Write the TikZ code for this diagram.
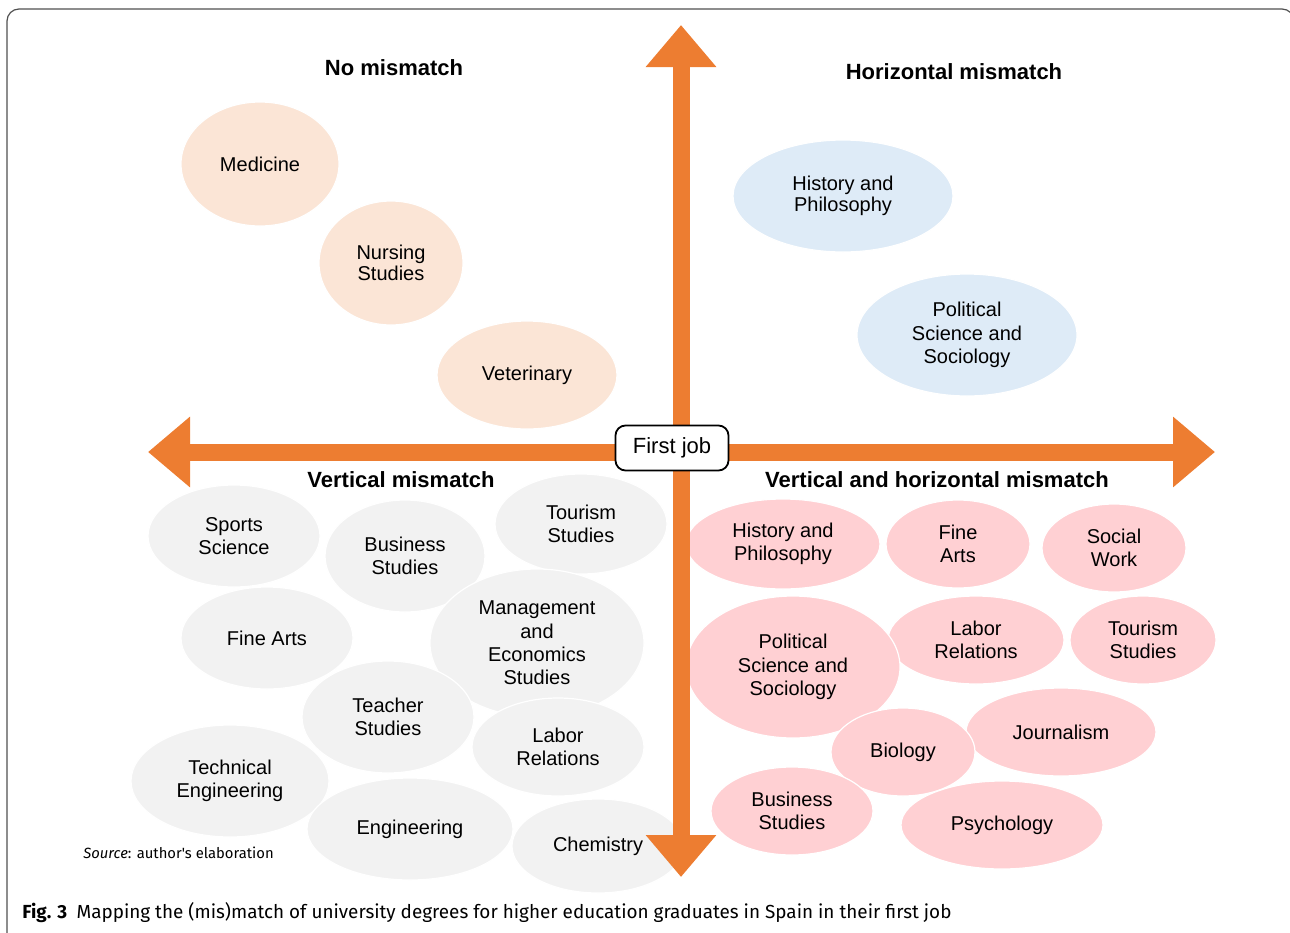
\documentclass[tikz,border=0pt]{standalone}
\usepackage{fontspec}
\setmainfont{Liberation Sans}
\newfontfamily\capfont{Fira Sans}
\usetikzlibrary{shapes.geometric, arrows.meta}

\definecolor{axisorange}{HTML}{ED7D31}
\definecolor{peach}{HTML}{FBE5D6}
\definecolor{paleblue}{HTML}{DEEBF7}
\definecolor{palegray}{HTML}{F2F2F2}
\definecolor{palepink}{HTML}{FFD0D3}
\definecolor{framegray}{HTML}{505050}

\begin{document}
\begin{tikzpicture}[x = 0.5pt, y = -0.5pt, % one unit = one pixel of the figure
                degree/.style = {ellipse, draw = white, line width = 0.6pt,
                    inner sep = 0pt, align = center},
                dims/.style 2 args = {minimum width = #1pt, minimum height = #2pt},
                upper/.style = {degree, font = \fontsize{10}{10.5}\selectfont},
                lower/.style = {degree, font = \fontsize{10}{11.7}\selectfont},
                nomis/.style = {upper, fill = peach},
                hormis/.style = {upper, fill = paleblue},
                vermis/.style = {lower, fill = palegray},
                bothmis/.style = {lower, fill = palepink},
                quadtitle/.style = {font = \fontsize{11}{13}\selectfont\bfseries},
                axis/.style = {draw = axisorange, line width = 8.5pt,
                    {Triangle[length = 21pt, width = 34pt]}-{Triangle[length = 21pt, width = 34pt]}}
            ]

    \useasboundingbox (0,0) rectangle (1290,932);
    \draw[framegray, line width = 0.6pt, rounded corners = 6pt] (7,9) rectangle (1294,950);

    % no mismatch
    \node[nomis, dims = {79}{62}] (med) at (260,164) {Medicine};
    \node[nomis, dims = {72}{62}] (nurs) at (391,263) {Nursing\\Studies};
    \node[nomis, dims = {90}{54}] (vet) at (527,375) {Veterinary};

    % horizontal mismatch
    \node[hormis, dims = {110}{56}] (hhist) at (843,196) {History and\\Philosophy};
    \node[hormis, font = \fontsize{10}{11.7}\selectfont, dims = {110}{61}] (hpol) at (967,335) {Political\\Science and\\Sociology};

    % vertical mismatch
    \node[vermis, dims = {86}{51}] (vsport) at (234,536) {Sports\\Science};
    \node[vermis, dims = {80}{56}] (vbus) at (405,556) {Business\\Studies};
    \node[vermis, dims = {86}{50}] (vtour) at (581,524) {Tourism\\Studies};
    \node[vermis, dims = {86}{51}] (vfine) at (267,638) {Fine Arts};
    \node[vermis, dims = {107}{74}] (vman) at (537,643) {Management\\and\\Economics\\Studies};
    \node[vermis, dims = {86}{56}] (vteach) at (388,717) {Teacher\\Studies};
    \node[vermis, dims = {86}{49}] (vlab) at (558,747) {Labor\\Relations};
    \node[vermis, dims = {99}{56}] (vtech) at (230,781) {Technical\\Engineering};
    \node[vermis, dims = {103}{51}] (veng) at (410,829) {Engineering};
    \node[vermis, dims = {86}{47}] (vchem) at (598,846) {Chemistry};

    % vertical and horizontal mismatch
    \node[bothmis, dims = {97}{45}] (bhist) at (783,544) {History and\\Philosophy};
    \node[bothmis, dims = {72}{44}] (bfine) at (958,544) {Fine\\Arts};
    \node[bothmis, dims = {72}{44}] (bsoc) at (1114,548) {Social\\Work};
    \node[bothmis, dims = {88}{44}] (blab) at (976,640) {Labor\\Relations};
    \node[bothmis, dims = {107}{71}] (bpol) at (793,667) {Political\\Science and\\Sociology};
    \node[bothmis, dims = {73}{44}] (btour) at (1143,640) {Tourism\\Studies};
    \node[bothmis, dims = {95}{44}] (bjour) at (1061,732) {Journalism};
    \node[bothmis, dims = {72}{44}] (bbio) at (903,752) {Biology};
    \node[bothmis, dims = {81}{44}] (bbus) at (792,811) {Business\\Studies};
    \node[bothmis, dims = {101}{44}] (bpsy) at (1002,825) {Psychology};

    % axes
    \coordinate (north) at (681,25); \coordinate (south) at (681,877);
    \coordinate (west) at (148,452); \coordinate (east) at (1215,452);
    \draw[axis] (south) -- (north);
    \draw[axis] (west) -- (east);

    \node[draw = black, fill = white, line width = 0.9pt, rounded corners = 5pt,
        minimum width = 56.5pt, minimum height = 22.5pt,
        font = \fontsize{11}{13}\selectfont] (first) at (672,448) {First job};

    % quadrant titles
    \node[quadtitle] (tno) at (394,68) {No mismatch};
    \node[quadtitle] (thor) at (954,72) {Horizontal mismatch};
    \node[quadtitle] (tver) at (401,480) {Vertical mismatch};
    \node[quadtitle] (tboth) at (937,480) {Vertical and horizontal mismatch};

    \node[anchor = west, inner sep = 0pt, font = \capfont\fontsize{7.4}{9}\selectfont]
        (src) at (83,853) {\textit{Source}: author's elaboration};
    \node[anchor = west, inner sep = 0pt, font = \capfont\fontsize{9.45}{11}\selectfont]
        (cap) at (22,913) {\textbf{Fig. 3}\enspace Mapping the (mis)match of university degrees for higher education graduates in Spain in their first job};
\end{tikzpicture}
\end{document}
